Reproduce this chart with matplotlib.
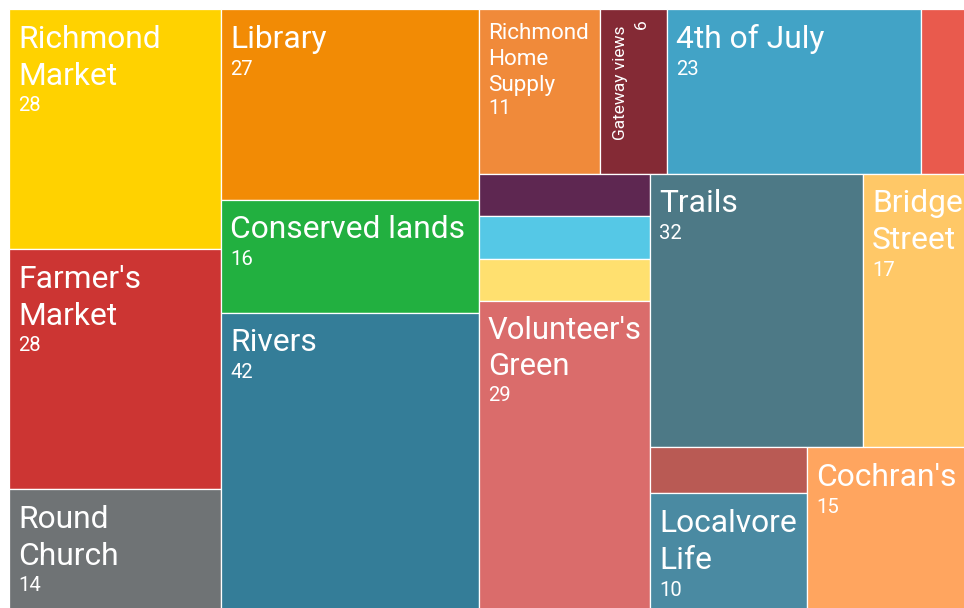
import matplotlib
matplotlib.use("Agg")
import matplotlib.pyplot as plt
from matplotlib.patches import Rectangle
from matplotlib.font_manager import FontProperties

# tiles in layout order; blank names are tiles too small to carry a label
names = ["Richmond Market", "Farmer's Market", "Round Church",
         "Library", "Conserved lands", "Rivers",
         "Richmond Home Supply", "Gateway views", "4th of July", "",
         "", "", "", "Volunteer's Green",
         "Trails", "Bridge Street",
         "", "Localvore Life",
         "Cochran's"]
values = [28, 28, 14,
          27, 16, 42,
          11, 6, 23, 5,
          4, 4, 4, 29,
          32, 17,
          4, 10,
          15]
colors = ["#FFD200", "#CC3533", "#6F7375",
          "#F28B05", "#22B040", "#347D98",
          "#F08A3A", "#842A35", "#42A3C6", "#E95A4D",
          "#5E2751", "#55C8E6", "#FFE06F", "#DA6C6B",
          "#4D7986", "#FFC867",
          "#B95A54", "#4A8AA2",
          "#FFA55F"]

FONT = "Roboto"
LABEL_PT = 22.9
VALUE_PT = 14.6
PAD = 9
PX = 100 / 72.0

# narrow tiles get smaller type
type_size = {"Richmond Home Supply": 16.2, "Volunteer's Green": 22.3, "Gateway views": 12.5}
rotated = {"Gateway views"}

PHI = (1 + 5 ** 0.5) / 2


def squarify(vals, x0, y0, x1, y1, ratio=PHI):
    """Squarified treemap keeping the input order (same rule as d3.treemapSquarify)."""
    rects = []
    n = len(vals)
    total = float(sum(vals))
    i0 = 0
    while i0 < n:
        dx, dy = x1 - x0, y1 - y0
        i1 = i0 + 1
        row_sum = vals[i0]
        lo = hi = row_sum
        alpha = max(dy / dx, dx / dy) / (total * ratio)
        beta = row_sum * row_sum * alpha
        best = max(hi / beta, beta / lo)
        while i1 < n:
            v = vals[i1]
            s = row_sum + v
            lo2, hi2 = min(lo, v), max(hi, v)
            beta = s * s * alpha
            r = max(hi2 / beta, beta / lo2)
            if r > best:
                break
            row_sum, lo, hi, best = s, lo2, hi2, r
            i1 += 1
        row = vals[i0:i1]
        if dx < dy:
            yb = y0 + dy * row_sum / total
            x = x0
            for v in row:
                w = dx * v / row_sum
                rects.append((x, y0, w, yb - y0))
                x += w
            y0 = yb
        else:
            xb = x0 + dx * row_sum / total
            y = y0
            for v in row:
                h = dy * v / row_sum
                rects.append((x0, y, xb - x0, h))
                y += h
            x0 = xb
        total -= row_sum
        i0 = i1
    return rects


fig = plt.figure(figsize=(9.64, 6.08), dpi=100)
ax = fig.add_axes([0, 0, 1, 1])
ax.set_xlim(0, 964)
ax.set_ylim(608, 0)
ax.axis("off")
renderer = fig.canvas.get_renderer()


def text_width(s, prop):
    w, _, _ = renderer.get_text_width_height_descent(s, prop, ismath=False)
    return w


def wrap(text, prop, width):
    lines, cur = [], ""
    for word in text.split():
        trial = word if not cur else cur + " " + word
        if cur and text_width(trial, prop) > width:
            lines.append(cur)
            cur = word
        else:
            cur = trial
    lines.append(cur)
    return lines


tiles = squarify(values, 9, 9, 976, 609)

for (x, y, w, h), name, val, col in zip(tiles, names, values, colors):
    ax.add_patch(Rectangle((x, y), w, h, facecolor=col, edgecolor="white", linewidth=0.9))
    if not name:
        continue

    lab_pt = type_size.get(name, LABEL_PT)
    val_pt = min(VALUE_PT, lab_pt)
    f = lab_pt * PX
    prop = FontProperties(family=FONT, size=lab_pt)

    if name in rotated:
        lines = wrap(name, prop, h - 20)
        base = x + 8 + 0.97 * f
        for i, line in enumerate(lines):
            ax.text(base + i * 1.16 * f, y + 17, line, rotation=90, rotation_mode="anchor",
                    ha="right", va="baseline", color="white", fontsize=lab_pt, family=FONT)
        vx = base + (len(lines) - 1) * 1.16 * f + 0.4 * f + 14
        ax.text(vx, y + 10, str(val), rotation=90, rotation_mode="anchor",
                ha="right", va="baseline", color="white", fontsize=val_pt, family=FONT)
    else:
        lines = wrap(name, prop, w - 20)
        base = y + 8 + 0.97 * f
        for i, line in enumerate(lines):
            ax.text(x + PAD, base + i * 1.16 * f, line, ha="left", va="baseline",
                    color="white", fontsize=lab_pt, family=FONT)
        vy = base + (len(lines) - 1) * 1.16 * f + 0.4 * f + 14
        ax.text(x + PAD, vy, str(val), ha="left", va="baseline",
                color="white", fontsize=val_pt, family=FONT)

fig.savefig("out.png", dpi=100)
